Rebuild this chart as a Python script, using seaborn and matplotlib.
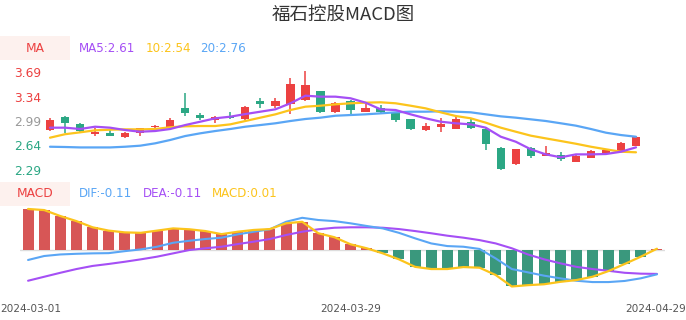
import matplotlib
matplotlib.use("Agg")
import matplotlib.pyplot as plt
import matplotlib.transforms as mtransforms
import seaborn as sns
import numpy as np
import pandas as pd

# ---------------- data ----------------
dates = ["2024-03-01", "2024-03-04", "2024-03-05", "2024-03-06", "2024-03-07", "2024-03-08",
         "2024-03-11", "2024-03-12", "2024-03-13", "2024-03-14", "2024-03-15", "2024-03-18",
         "2024-03-19", "2024-03-20", "2024-03-21", "2024-03-22", "2024-03-25", "2024-03-26",
         "2024-03-27", "2024-03-28", "2024-03-29", "2024-04-01", "2024-04-02", "2024-04-03",
         "2024-04-08", "2024-04-09", "2024-04-10", "2024-04-11", "2024-04-12", "2024-04-15",
         "2024-04-16", "2024-04-17", "2024-04-18", "2024-04-19", "2024-04-22", "2024-04-23",
         "2024-04-24", "2024-04-25", "2024-04-26", "2024-04-29"]
open_ = [2.86, 3.052, 2.942, 2.803, 2.822, 2.764, 2.813, 2.904, 2.908, 3.172,
         3.076, 3.004, 3.052, 3.014, 3.282, 3.21, 3.23, 3.292, 3.422, 3.115,
         3.278, 3.124, 3.172, 3.10, 3.019, 2.86, 2.899, 2.875, 2.97, 2.875,
         2.606, 2.371, 2.606, 2.49, 2.50, 2.404, 2.462, 2.525, 2.548, 2.634]
close = [3.004, 2.957, 2.846, 2.836, 2.774, 2.822, 2.885, 2.922, 3.004, 3.10,
         3.029, 3.052, 3.029, 3.196, 3.235, 3.278, 3.518, 3.508, 3.115, 3.245,
         3.148, 3.181, 3.115, 3.004, 2.875, 2.918, 2.947, 3.019, 2.894, 2.655,
         2.299, 2.583, 2.49, 2.534, 2.439, 2.49, 2.558, 2.573, 2.669, 2.764]
high = [3.03, 3.062, 2.957, 2.885, 2.86, 2.836, 2.894, 2.932, 3.03, 3.397,
        3.10, 3.062, 3.124, 3.206, 3.325, 3.316, 3.604, 3.709, 3.422, 3.268,
        3.292, 3.23, 3.22, 3.124, 3.019, 2.957, 3.03, 3.052, 3.019, 2.894,
        2.62, 2.592, 2.62, 2.635, 2.54, 2.50, 2.573, 2.587, 2.683, 2.774]
low = [2.85, 2.82, 2.813, 2.774, 2.774, 2.74, 2.774, 2.875, 2.894, 3.062,
       3.004, 2.957, 3.014, 3.004, 3.173, 3.173, 3.086, 3.278, 3.10, 3.10,
       3.091, 3.115, 3.10, 2.98, 2.865, 2.85, 2.836, 2.875, 2.875, 2.573,
       2.285, 2.361, 2.462, 2.486, 2.419, 2.395, 2.462, 2.515, 2.548, 2.634]
ma5 = [2.894, 2.894, 2.875, 2.908, 2.894, 2.86, 2.836, 2.846, 2.875, 2.932,
       2.98, 3.029, 3.052, 3.09, 3.124, 3.158, 3.245, 3.354, 3.34, 3.34,
       3.317, 3.254, 3.158, 3.148, 3.086, 3.029, 2.98, 2.957, 2.942, 2.894,
       2.764, 2.692, 2.583, 2.51, 2.468, 2.51, 2.51, 2.515, 2.548, 2.611]
ma10 = [2.75, 2.80, 2.827, 2.856, 2.865, 2.87, 2.87, 2.875, 2.90, 2.914,
        2.918, 2.918, 2.942, 2.99, 3.038, 3.086, 3.148, 3.196, 3.21, 3.23,
        3.245, 3.254, 3.259, 3.245, 3.21, 3.172, 3.115, 3.062, 3.029, 2.966,
        2.894, 2.836, 2.779, 2.74, 2.702, 2.663, 2.62, 2.583, 2.548, 2.54]
ma20 = [2.62, 2.616, 2.61, 2.61, 2.61, 2.62, 2.635, 2.669, 2.717, 2.774,
        2.813, 2.846, 2.875, 2.908, 2.932, 2.957, 2.99, 3.019, 3.038, 3.066,
        3.076, 3.086, 3.10, 3.115, 3.124, 3.124, 3.13, 3.124, 3.115, 3.086,
        3.057, 3.038, 3.014, 2.99, 2.957, 2.923, 2.875, 2.822, 2.788, 2.764]
dif = [-0.045, -0.027, -0.020, -0.017, -0.015, -0.014, -0.005, 0.003, 0.015, 0.033,
       0.042, 0.050, 0.056, 0.071, 0.083, 0.094, 0.128, 0.146, 0.136, 0.131,
       0.121, 0.109, 0.098, 0.078, 0.053, 0.030, 0.018, 0.015, 0.005, -0.038,
       -0.086, -0.101, -0.116, -0.128, -0.139, -0.145, -0.145, -0.140, -0.128, -0.110]
dea = [-0.139, -0.121, -0.103, -0.086, -0.072, -0.063, -0.053, -0.042, -0.030, -0.015,
       0.000, 0.008, 0.015, 0.027, 0.038, 0.050, 0.068, 0.083, 0.094, 0.101,
       0.103, 0.103, 0.101, 0.095, 0.086, 0.076, 0.065, 0.056, 0.045, 0.030,
       0.008, -0.020, -0.042, -0.060, -0.076, -0.086, -0.094, -0.103, -0.107, -0.108]
macd = [0.186, 0.181, 0.154, 0.131, 0.103, 0.088, 0.080, 0.078, 0.088, 0.098,
        0.094, 0.086, 0.072, 0.083, 0.091, 0.095, 0.121, 0.128, 0.076, 0.058,
        0.026, 0.008, -0.015, -0.042, -0.076, -0.086, -0.086, -0.077, -0.080, -0.113,
        -0.165, -0.159, -0.155, -0.144, -0.136, -0.121, -0.095, -0.063, -0.030, 0.006]
price_ticks = [2.29, 2.64, 2.99, 3.34, 3.69]
price_tick_colors = ["#2ba784", "#2ba784", "#999999", "#ec4141", "#ec4141"]
xtick_idx = [0, 20, 39]
title = "福石控股MACD图"
ma_legend = ["MA5:2.61", "10:2.54", "20:2.76"]
macd_legend = ["DIF:-0.11", "DEA:-0.11", "MACD:0.01"]

# ---------------- style ----------------
sns.set_theme(style="white")
plt.rcParams["font.family"] = ["DejaVu Sans", "Noto Sans CJK SC"]

RED = "#ec4141"
GREEN = "#2ba784"
PURPLE = "#a54ff5"
GOLD = "#fcc41c"
BLUE = "#5aa6f5"

W, H = 686, 320
fig = plt.figure(figsize=(W / 100, H / 100), dpi=100)


def rect(l, t, r, b):
    return [l / W, 1 - b / H, (r - l) / W, (b - t) / H]


n = len(dates)
idx = np.arange(n)

# ---------------- candlestick panel ----------------
ax = fig.add_axes(rect(42.5, 64, 643.5, 176))
df = pd.DataFrame({"i": idx, "open": open_, "close": close, "high": high, "low": low,
                   "ma5": ma5, "ma10": ma10, "ma20": ma20})
df["up"] = df["close"] >= df["open"]
cols = np.where(df["up"], RED, GREEN)
ax.vlines(df["i"], df["low"], df["high"], colors=cols, linewidth=1.1, zorder=2)
body_bottom = np.minimum(df["open"], df["close"])
body_h = np.maximum(np.abs(df["close"] - df["open"]), 0.012)
ax.bar(df["i"], body_h, bottom=body_bottom, width=0.55, color=cols, zorder=3, linewidth=0)
sns.lineplot(data=df, x="i", y="ma20", ax=ax, color=BLUE, linewidth=1.6, zorder=4)
sns.lineplot(data=df, x="i", y="ma10", ax=ax, color=GOLD, linewidth=1.6, zorder=4)
sns.lineplot(data=df, x="i", y="ma5", ax=ax, color=PURPLE, linewidth=1.6, zorder=5)
ax.set_xlim(-0.5, n - 0.5)
ax.set_ylim(2.199, 3.81)
ax.set_yticks(price_ticks)
ax.set_yticklabels([f"{v:.2f}" for v in price_ticks], fontsize=8.8)
for lab, c in zip(ax.get_yticklabels(), price_tick_colors):
    lab.set_color(c)
ax.tick_params(axis="y", length=0, pad=1)
ax.set_xticks([])
ax.set_xlabel("")
ax.set_ylabel("")
for s in ax.spines.values():
    s.set_visible(False)
ax.patch.set_alpha(0)

# ---------------- MACD panel ----------------
bx = fig.add_axes(rect(20, 205, 665, 292))
mdf = pd.DataFrame({"i": idx, "macd": macd, "dif": dif, "dea": dea})
mdf["sign"] = np.where(mdf["macd"] >= 0, "pos", "neg")
bx.axhline(0, color="#dddddd", linewidth=1, zorder=1)
sns.barplot(data=mdf, x="i", y="macd", hue="sign", palette={"pos": RED, "neg": GREEN},
            width=0.68, dodge=False, legend=False, ax=bx, zorder=2, linewidth=0, native_scale=True)
sns.lineplot(data=mdf, x="i", y="dea", ax=bx, color=PURPLE, linewidth=1.5, zorder=4)
sns.lineplot(data=mdf, x="i", y="dif", ax=bx, color=BLUE, linewidth=1.5, zorder=4)
sns.lineplot(data=mdf, x="i", y="macd", ax=bx, color=GOLD, linewidth=1.6, zorder=5)
bx.set_xlim(-0.5, n - 0.5)
bx.set_ylim(-0.190, 0.204)
bx.set_yticks([])
bx.set_xticks(xtick_idx)
bx.set_xticklabels([dates[i] for i in xtick_idx], fontsize=7.6, color="#555555")
bx.tick_params(axis="x", length=0, pad=9)
xlabs = bx.get_xticklabels()
xlabs[0].set_transform(xlabs[0].get_transform() +
                       mtransforms.ScaledTranslation(2.5 / 100, 0, fig.dpi_scale_trans))
xlabs[-1].set_transform(xlabs[-1].get_transform() +
                        mtransforms.ScaledTranslation(-1.5 / 100, 0, fig.dpi_scale_trans))
bx.set_xlabel("")
bx.set_ylabel("")
for s in bx.spines.values():
    s.set_visible(False)
bx.patch.set_alpha(0)

# ---------------- texts ----------------
fig.text(343 / W, 1 - 15 / H, title, ha="center", va="center", fontsize=13.3,
         color="#333333", family=["Noto Sans CJK SC", "DejaVu Sans"])

# MA label box
fig.patches.append(plt.Rectangle((0, 1 - 60 / H), 70 / W, 23.5 / H, transform=fig.transFigure,
                                 facecolor="#fdf1ee", edgecolor="none"))
fig.text(35 / W, 1 - 48.5 / H, "MA", ha="center", va="center", fontsize=8.8, color=RED)
for txt, x, c in zip(ma_legend, [79, 146, 200], [PURPLE, GOLD, BLUE]):
    fig.text(x / W, 1 - 48.5 / H, txt, ha="left", va="center", fontsize=8.6, color=c)

# MACD label box
fig.patches.append(plt.Rectangle((0, 1 - 206 / H), 70 / W, 24 / H, transform=fig.transFigure,
                                 facecolor="#fdf1ee", edgecolor="none"))
fig.text(35 / W, 1 - 193.5 / H, "MACD", ha="center", va="center", fontsize=8.8, color=RED)
for txt, x, c in zip(macd_legend, [79, 143, 212], [BLUE, PURPLE, GOLD]):
    fig.text(x / W, 1 - 193.5 / H, txt, ha="left", va="center", fontsize=8.6, color=c)

fig.savefig("out.png", dpi=100, facecolor="white")
